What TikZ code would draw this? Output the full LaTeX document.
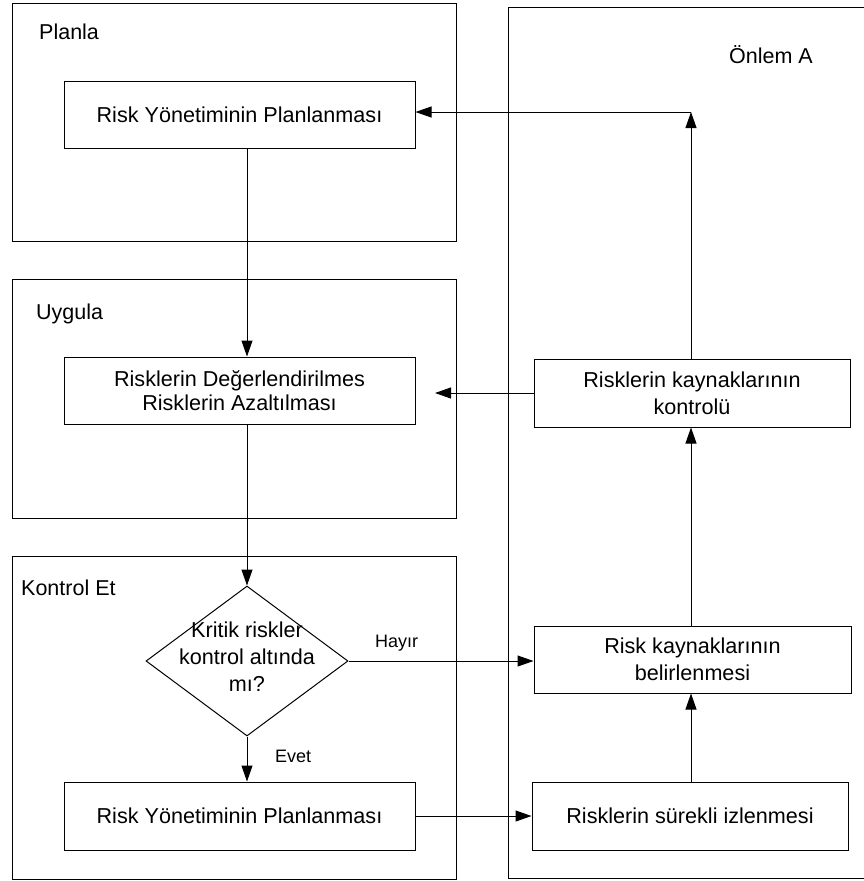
\documentclass[tikz,border=0pt]{standalone}
\usepackage{fontspec}
\setmainfont{Liberation Sans}
\usetikzlibrary{shapes.geometric,arrows.meta}
\begin{document}
\begin{tikzpicture}[x=1pt,y=-1pt,
  frame/.style={draw=black,line width=1pt},
  stepbox/.style={draw=black,line width=1pt,fill=white,inner sep=0pt,
    align=center,font=\fontsize{21.6}{27}\selectfont},
  head/.style={anchor=base west,inner sep=0pt,font=\fontsize{21.5}{24}\selectfont},
  tag/.style={anchor=base west,inner sep=0pt,font=\fontsize{18}{21}\selectfont},
  arr/.style={draw=black,line width=1pt,-{Triangle[length=16pt,width=11pt]}},
  line/.style={draw=black,line width=1pt}]
\useasboundingbox (0,0) rectangle (863,881);

% phase frames
\draw[frame] (12,3) rectangle (456,241);
\draw[frame] (12,279) rectangle (456,518);
\draw[frame] (12,556) rectangle (456,879);
\draw[frame] (870,7) -- (508,7) -- (508,878) -- (870,878);

% frame titles
\node[head] (tplan) at (39,39) {Planla};
\node[head] (tdo) at (36,319) {Uygula};
\node[head] (tchk) at (21,595) {Kontrol Et};
\node[head] (tact) at (729,63) {Önlem A};

% process steps
\node[stepbox,minimum width=351pt,minimum height=67pt] (plan) at (239.5,114.5)
  {Risk Yönetiminin Planlanması};
\node[stepbox,minimum width=351pt,minimum height=67pt,
  font=\fontsize{21.6}{23.5}\selectfont] (assess) at (239.5,390.5)
  {Risklerin Değerlendirilmes\\Risklerin Azaltılması};
\node[shape=diamond,draw=black,line width=1pt,fill=white,inner sep=0pt,
  minimum width=202pt,minimum height=150pt] (dec) at (247,661) {};
\node[align=center,inner sep=0pt,font=\fontsize{21.6}{27}\selectfont] (dectext)
  at (247,657) {Kritik riskler\\kontrol altında\\mı?};
\node[stepbox,minimum width=351pt,minimum height=68pt] (plan2) at (239.5,816)
  {Risk Yönetiminin Planlanması};

\node[stepbox,minimum width=316pt,minimum height=68pt] (ctrl) at (692,393)
  {Risklerin kaynaklarının\\kontrolü};
\node[stepbox,minimum width=317pt,minimum height=67pt] (ident) at (692.5,659.5)
  {Risk kaynaklarının\\belirlenmesi};
\node[stepbox,minimum width=316pt,minimum height=68pt] (mon) at (690,816)
  {Risklerin sürekli izlenmesi};

% helper points
\coordinate (corner) at (691,112);
\coordinate (assessin) at (435,393);

% connectors
\draw[arr] (plan.south -| dec.north) -- (assess.north -| dec.north);
\draw[arr] (assess.south -| dec.north) -- (dec.north);
\draw[arr] (dec.south) -- (plan2.north -| dec.south);
\draw[arr] (dec.east) -- (ident.west |- dec.east);
\draw[arr] (plan2.east) -- (mon.west);
\draw[arr] (mon.north -| corner) -- (ident.south -| corner);
\draw[arr] (ident.north -| corner) -- (ctrl.south -| corner);
\draw[arr] (ctrl.north -| corner) -- (corner);
\draw[arr] (corner) -- (plan.east |- corner);
\draw[arr] (ctrl.west) -- (assessin);

% branch labels
\node[tag] (no) at (375,647) {Hayır};
\node[tag] (yes) at (275,762) {Evet};
\end{tikzpicture}
\end{document}
